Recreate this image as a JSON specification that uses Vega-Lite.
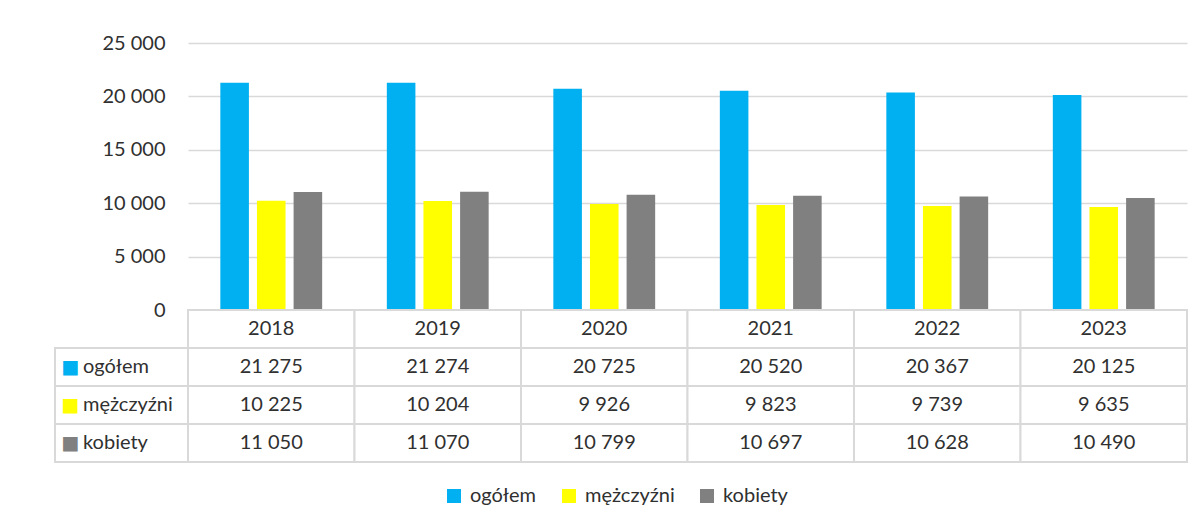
{
  "$schema": "https://vega.github.io/schema/vega-lite/v6.json",
  "padding": {"left": 54, "top": 33, "right": 5, "bottom": 5},
  "background": "white",
  "config": {
    "locale": {"number": {"decimal": ",", "thousands": " ", "grouping": [3], "currency": ["", ""]}},
    "view": {"stroke": null},
    "font": "Lato",
    "text": {"font": "Lato", "fontSize": 20, "color": "#303030"}
  },
  "datasets": {
    "main": [
      {"year": "2018", "series": "ogółem", "value": 21275},
      {"year": "2018", "series": "mężczyźni", "value": 10225},
      {"year": "2018", "series": "kobiety", "value": 11050},
      {"year": "2019", "series": "ogółem", "value": 21274},
      {"year": "2019", "series": "mężczyźni", "value": 10204},
      {"year": "2019", "series": "kobiety", "value": 11070},
      {"year": "2020", "series": "ogółem", "value": 20725},
      {"year": "2020", "series": "mężczyźni", "value": 9926},
      {"year": "2020", "series": "kobiety", "value": 10799},
      {"year": "2021", "series": "ogółem", "value": 20520},
      {"year": "2021", "series": "mężczyźni", "value": 9823},
      {"year": "2021", "series": "kobiety", "value": 10697},
      {"year": "2022", "series": "ogółem", "value": 20367},
      {"year": "2022", "series": "mężczyźni", "value": 9739},
      {"year": "2022", "series": "kobiety", "value": 10628},
      {"year": "2023", "series": "ogółem", "value": 20125},
      {"year": "2023", "series": "mężczyźni", "value": 9635},
      {"year": "2023", "series": "kobiety", "value": 10490}
    ]
  },
  "data": {"name": "main"},
  "columns": 2,
  "spacing": 0,
  "bounds": "flush",
  "align": "each",
  "concat": [
    {
      "width": 133,
      "height": 267,
      "data": {"values": [{}]},
      "mark": {"type": "text"},
      "encoding": {"text": {"value": ""}}
    },
    {
      "width": 999,
      "height": 267,
      "mark": {"type": "bar"},
      "encoding": {
        "x": {"field": "year", "type": "ordinal", "axis": null, "scale": {"paddingInner": 0.34, "paddingOuter": 0.17}},
        "xOffset": {"field": "series", "type": "nominal", "sort": ["ogółem", "mężczyźni", "kobiety"], "scale": {"paddingInner": 0.22, "paddingOuter": 0.11}},
        "y": {
          "field": "value", "type": "quantitative",
          "scale": {"domain": [0, 25000]},
          "axis": {
            "values": [0, 5000, 10000, 15000, 20000, 25000],
            "format": ",d", "title": null, "domain": false, "ticks": false,
            "labelPadding": 23, "gridColor": "#d9d9d9", "gridWidth": 1.5,
            "labelFontSize": 20, "labelFont": "Lato", "labelColor": "#303030"
          }
        },
        "color": {
          "field": "series", "type": "nominal",
          "scale": {"domain": ["ogółem", "mężczyźni", "kobiety"], "range": ["#00B0F0", "#FFFF00", "#808080"]},
          "legend": {
            "orient": "none", "legendX": 389, "legendY": 443, "direction": "horizontal",
            "title": null, "symbolType": "square", "symbolSize": 196, "symbolStrokeWidth": 0,
            "labelFontSize": 20, "labelFont": "Lato", "labelColor": "#303030",
            "columnPadding": 22, "labelOffset": 6, "symbolOpacity": 1
          }
        }
      }
    },
    {
      "width": 133,
      "height": 152,
      "transform": [{"filter": "datum.year == '2018'"}],
      "encoding": {
        "y": {"field": "series", "type": "nominal", "scale": {"domain": ["rok", "ogółem", "mężczyźni", "kobiety"], "paddingInner": 0, "paddingOuter": 0}, "axis": null}
      },
      "layer": [
        {"mark": {"type": "rect", "fill": "white", "stroke": "#d9d9d9", "strokeWidth": 2}},
        {
          "mark": {"type": "text", "text": "■", "align": "left", "baseline": "middle", "dx": -60, "font": "DejaVu Sans", "fontSize": 19},
          "encoding": {
            "color": {"field": "series", "type": "nominal", "scale": {"domain": ["ogółem", "mężczyźni", "kobiety"], "range": ["#00B0F0", "#FFFF00", "#808080"]}, "legend": null}
          }
        },
        {
          "mark": {"type": "text", "align": "left", "baseline": "middle", "dx": -38.5},
          "encoding": {"text": {"field": "series", "type": "nominal"}}
        }
      ]
    },
    {
      "width": 999,
      "height": 152,
      "layer": [
        {
          "transform": [{"filter": "datum.series == 'ogółem'"}],
          "encoding": {
            "x": {"field": "year", "type": "ordinal", "axis": null, "scale": {"paddingInner": 0, "paddingOuter": 0}},
            "y": {"datum": "rok", "type": "nominal", "scale": {"domain": ["rok", "ogółem", "mężczyźni", "kobiety"], "paddingInner": 0, "paddingOuter": 0}, "axis": null}
          },
          "layer": [
            {"mark": {"type": "rect", "fill": "white", "stroke": "#d9d9d9", "strokeWidth": 2}},
            {"mark": {"type": "text", "baseline": "middle"}, "encoding": {"text": {"field": "year", "type": "nominal"}}}
          ]
        },
        {
          "encoding": {
            "x": {"field": "year", "type": "ordinal", "axis": null, "scale": {"paddingInner": 0, "paddingOuter": 0}},
            "y": {"field": "series", "type": "nominal", "scale": {"domain": ["rok", "ogółem", "mężczyźni", "kobiety"], "paddingInner": 0, "paddingOuter": 0}, "axis": null}
          },
          "layer": [
            {"mark": {"type": "rect", "fill": "white", "stroke": "#d9d9d9", "strokeWidth": 2}},
            {"mark": {"type": "text", "baseline": "middle"}, "encoding": {"text": {"field": "value", "type": "quantitative", "format": ",d"}}}
          ]
        }
      ]
    }
  ]
}
